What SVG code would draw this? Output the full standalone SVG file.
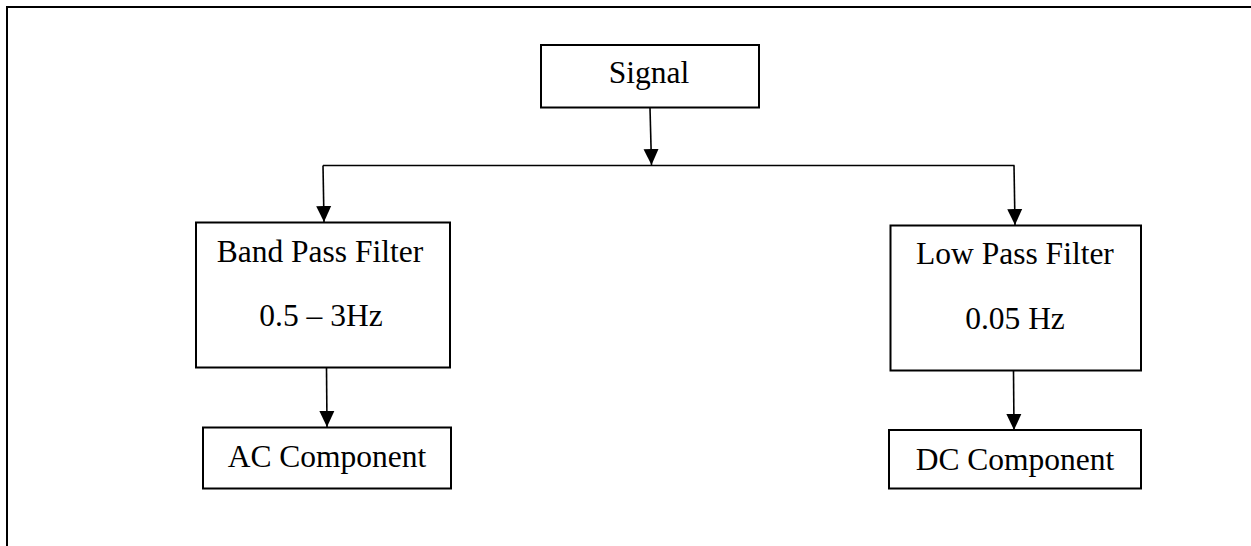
<svg xmlns="http://www.w3.org/2000/svg" width="1251" height="546" viewBox="0 0 1251 546">
  <defs>
    <marker id="head" viewBox="0 0 16 16" refX="16" refY="8" markerWidth="16" markerHeight="16" markerUnits="userSpaceOnUse" orient="auto">
      <path d="M0,0.5 L16,8 L0,15.5 Z" fill="#000"/>
    </marker>
  </defs>
  <style>
    .frame { fill: none; stroke: #000; stroke-width: 2; }
    .box { fill: #fff; stroke: #000; stroke-width: 2; }
    .label { font-family: "Liberation Serif", "Times New Roman", serif; font-size: 31.5px; fill: #000; text-anchor: middle; }
    .wire { fill: none; stroke: #000; stroke-width: 1.6; }
    .arrow { fill: none; stroke: #000; stroke-width: 1.6; marker-end: url(#head); }
  </style>

  <rect width="1251" height="546" fill="#fff"/>
  <!-- page frame: top and left edges -->
  <path class="frame" d="M7,546 L7,7 L1251,7"/>

  <g id="connectors">
    <path class="arrow" d="M650,108 L651.5,165"/>
    <path class="wire" d="M323,165.5 L1014.5,165.5"/>
    <path class="arrow" d="M323,165.5 L324,222"/>
    <path class="arrow" d="M1014,165.5 L1015,225"/>
    <path class="arrow" d="M326.5,368 L327,427"/>
    <path class="arrow" d="M1013.5,371 L1014,430"/>
  </g>

  <g id="signal">
    <rect class="box" x="541" y="45" width="218" height="62.5"/>
    <text class="label" x="649" y="83">Signal</text>
  </g>

  <g id="band-pass-filter">
    <rect class="box" x="196" y="222.5" width="254" height="145"/>
    <text class="label" x="320" y="262">Band Pass Filter</text>
    <text class="label" x="321" y="326">0.5 – 3Hz</text>
  </g>

  <g id="low-pass-filter">
    <rect class="box" x="890.5" y="225.5" width="250.5" height="145"/>
    <text class="label" x="1015" y="264">Low Pass Filter</text>
    <text class="label" x="1015" y="329">0.05 Hz</text>
  </g>

  <g id="ac-component">
    <rect class="box" x="203" y="427.5" width="248" height="61"/>
    <text class="label" x="327" y="467">AC Component</text>
  </g>

  <g id="dc-component">
    <rect class="box" x="889" y="430" width="252" height="58.5"/>
    <text class="label" x="1015" y="470">DC Component</text>
  </g>
</svg>
